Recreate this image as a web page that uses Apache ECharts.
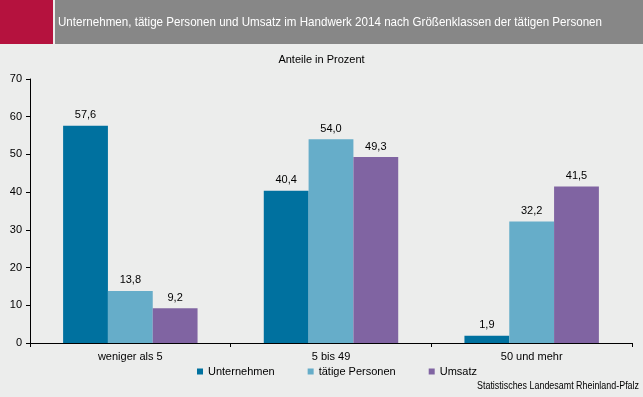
<!DOCTYPE html>
<html><head><meta charset="utf-8">
<script src="https://cdn.jsdelivr.net/npm/echarts@6/dist/echarts.min.js"></script>
<style>html,body{margin:0;padding:0;background:#ecedec;}#c{width:643px;height:397px;}</style>
</head><body><div id="c"></div>
<script>
const categories = ['weniger als 5', '5 bis 49', '50 und mehr'];
const unternehmen = [57.6, 40.4, 1.9];
const taetigePersonen = [13.8, 54.0, 32.2];
const umsatz = [9.2, 49.3, 41.5];
const seriesNames = ['Unternehmen', 'tätige Personen', 'Umsatz'];
const yTicks = [0, 10, 20, 30, 40, 50, 60, 70];

const titleText = 'Unternehmen, tätige Personen und Umsatz im Handwerk 2014 nach Größenklassen der tätigen Personen';
const sourceText = 'Statistisches Landesamt Rheinland-Pfalz';
const colors = ['#00719f', '#66adc9', '#8064a2'];
const font = 'Liberation Sans, Arial, sans-serif';
const ctx = document.createElement('canvas').getContext('2d');
function fitScale(text, f, target) { ctx.font = f; return target / ctx.measureText(text).width; }
const titleFont = '13px ' + font;
const srcFont = '10px ' + font;
const titleScale = fitScale(titleText, titleFont, 544);
const srcScale = fitScale(sourceText, srcFont, 162);

const fmt = p => p.value.toFixed(1).replace('.', ',');
const mk = (name, data, i) => ({
  name, type: 'bar', data, barGap: 0, barCategoryGap: '33%',
  itemStyle: { color: colors[i] },
  label: { show: true, position: 'top', formatter: fmt, color: '#000', fontFamily: font, fontSize: 11, distance: 5 }
});
const chart = echarts.init(document.getElementById('c'));
chart.setOption({
  backgroundColor: '#ecedec',
  animation: false,
  textStyle: { fontFamily: font },
  graphic: [
    { type: 'rect', shape: { x: 0, y: 0, width: 53, height: 44 }, style: { fill: '#b5123e' } },
    { type: 'rect', shape: { x: 55, y: 0, width: 588, height: 44 }, style: { fill: '#878787' } },
    { type: 'text', x: 58, y: 22, scaleX: titleScale, style: { text: titleText, fill: '#fff', font: titleFont, textVerticalAlign: 'middle', verticalAlign: 'middle' } },
    { type: 'text', left: 'center', top: 54, style: { text: 'Anteile in Prozent', fill: '#000', font: '11px ' + font } },
    { type: 'text', x: 639, y: 386, scaleX: srcScale, style: { text: sourceText, fill: '#000', font: srcFont, align: 'right', textAlign: 'right', verticalAlign: 'middle', textVerticalAlign: 'middle' } }
  ],
  legend: {
    left: 197, top: 366, padding: 0, itemWidth: 6, itemHeight: 6, itemGap: 33, icon: 'rect',
    textStyle: { fontFamily: font, fontSize: 11, color: '#000' },
    data: seriesNames
  },
  grid: { left: 30, right: 11, top: 79, bottom: 54 },
  xAxis: {
    type: 'category', data: categories,
    axisLine: { lineStyle: { color: '#000' } },
    axisTick: { show: true, length: 4, lineStyle: { color: '#000' } },
    axisLabel: { color: '#000', fontSize: 11, margin: 8, fontFamily: font }
  },
  yAxis: {
    type: 'value', min: yTicks[0], max: yTicks[yTicks.length - 1], interval: 10,
    axisLine: { show: true, lineStyle: { color: '#000' } },
    axisTick: { show: true, length: 4, lineStyle: { color: '#000' } },
    splitLine: { show: false },
    axisLabel: { color: '#000', fontSize: 11, margin: 8, fontFamily: font }
  },
  series: [mk(seriesNames[0], unternehmen, 0), mk(seriesNames[1], taetigePersonen, 1), mk(seriesNames[2], umsatz, 2)]
});
</script></body></html>
